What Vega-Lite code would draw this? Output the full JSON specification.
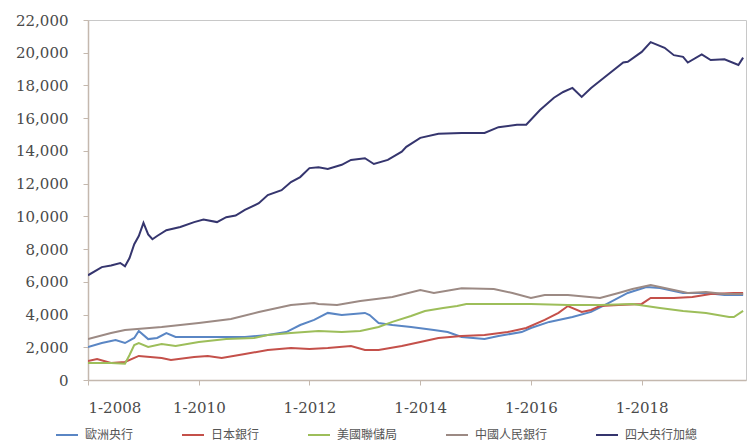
{
"$schema": "https://vega.github.io/schema/vega-lite/v6.json",
"width": 658, "height": 360,
"autosize": {"type": "none"},
"padding": {"left": 88, "top": 20, "right": 3, "bottom": 61},
"background": "white",
"config": {"view": {"stroke": "#C8C8C8", "strokeWidth": 1}},
"data": {"values": [
{"date":"2008-01","series":"歐洲央行","value":2020},{"date":"2008-04","series":"歐洲央行","value":2260},{"date":"2008-07","series":"歐洲央行","value":2440},{"date":"2008-09","series":"歐洲央行","value":2260},{"date":"2008-11","series":"歐洲央行","value":2570},{"date":"2008-12","series":"歐洲央行","value":3000},{"date":"2009-02","series":"歐洲央行","value":2500},{"date":"2009-04","series":"歐洲央行","value":2570},{"date":"2009-06","series":"歐洲央行","value":2870},{"date":"2009-08","series":"歐洲央行","value":2630},{"date":"2010-03","series":"歐洲央行","value":2630},{"date":"2010-11","series":"歐洲央行","value":2630},{"date":"2011-04","series":"歐洲央行","value":2750},{"date":"2011-08","series":"歐洲央行","value":2930},{"date":"2011-11","series":"歐洲央行","value":3360},{"date":"2012-02","series":"歐洲央行","value":3670},{"date":"2012-05","series":"歐洲央行","value":4100},{"date":"2012-08","series":"歐洲央行","value":3970},{"date":"2013-01","series":"歐洲央行","value":4100},{"date":"2013-02","series":"歐洲央行","value":3970},{"date":"2013-04","series":"歐洲央行","value":3480},{"date":"2013-07","series":"歐洲央行","value":3360},{"date":"2013-11","series":"歐洲央行","value":3240},{"date":"2014-04","series":"歐洲央行","value":3060},{"date":"2014-07","series":"歐洲央行","value":2930},{"date":"2014-10","series":"歐洲央行","value":2630},{"date":"2015-03","series":"歐洲央行","value":2500},{"date":"2015-06","series":"歐洲央行","value":2690},{"date":"2015-11","series":"歐洲央行","value":2930},{"date":"2016-01","series":"歐洲央行","value":3180},{"date":"2016-05","series":"歐洲央行","value":3550},{"date":"2016-10","series":"歐洲央行","value":3850},{"date":"2017-02","series":"歐洲央行","value":4160},{"date":"2017-05","series":"歐洲央行","value":4580},{"date":"2017-10","series":"歐洲央行","value":5320},{"date":"2018-02","series":"歐洲央行","value":5680},{"date":"2018-05","series":"歐洲央行","value":5620},{"date":"2018-10","series":"歐洲央行","value":5320},{"date":"2019-03","series":"歐洲央行","value":5320},{"date":"2019-07","series":"歐洲央行","value":5200},{"date":"2019-11","series":"歐洲央行","value":5200},

{"date":"2008-01","series":"日本銀行","value":1160},{"date":"2008-03","series":"日本銀行","value":1280},{"date":"2008-06","series":"日本銀行","value":1040},{"date":"2008-09","series":"日本銀行","value":1100},{"date":"2008-12","series":"日本銀行","value":1470},{"date":"2009-05","series":"日本銀行","value":1340},{"date":"2009-07","series":"日本銀行","value":1220},{"date":"2009-12","series":"日本銀行","value":1400},{"date":"2010-03","series":"日本銀行","value":1470},{"date":"2010-06","series":"日本銀行","value":1340},{"date":"2010-11","series":"日本銀行","value":1590},{"date":"2011-04","series":"日本銀行","value":1830},{"date":"2011-09","series":"日本銀行","value":1960},{"date":"2012-01","series":"日本銀行","value":1900},{"date":"2012-05","series":"日本銀行","value":1960},{"date":"2012-10","series":"日本銀行","value":2080},{"date":"2013-01","series":"日本銀行","value":1830},{"date":"2013-04","series":"日本銀行","value":1830},{"date":"2013-09","series":"日本銀行","value":2080},{"date":"2014-01","series":"日本銀行","value":2320},{"date":"2014-05","series":"日本銀行","value":2570},{"date":"2014-10","series":"日本銀行","value":2690},{"date":"2015-03","series":"日本銀行","value":2750},{"date":"2015-08","series":"日本銀行","value":2930},{"date":"2015-12","series":"日本銀行","value":3180},{"date":"2016-04","series":"日本銀行","value":3670},{"date":"2016-07","series":"日本銀行","value":4100},{"date":"2016-09","series":"日本銀行","value":4520},{"date":"2016-12","series":"日本銀行","value":4160},{"date":"2017-02","series":"日本銀行","value":4280},{"date":"2017-04","series":"日本銀行","value":4520},{"date":"2017-08","series":"日本銀行","value":4580},{"date":"2018-01","series":"日本銀行","value":4650},{"date":"2018-03","series":"日本銀行","value":5010},{"date":"2018-08","series":"日本銀行","value":5010},{"date":"2018-12","series":"日本銀行","value":5070},{"date":"2019-04","series":"日本銀行","value":5260},{"date":"2019-09","series":"日本銀行","value":5320},{"date":"2019-11","series":"日本銀行","value":5320},

{"date":"2008-01","series":"美國聯儲局","value":1040},{"date":"2008-06","series":"美國聯儲局","value":1040},{"date":"2008-09","series":"美國聯儲局","value":1000},{"date":"2008-10","series":"美國聯儲局","value":1530},{"date":"2008-11","series":"美國聯儲局","value":2140},{"date":"2008-12","series":"美國聯儲局","value":2260},{"date":"2009-02","series":"美國聯儲局","value":2020},{"date":"2009-05","series":"美國聯儲局","value":2200},{"date":"2009-08","series":"美國聯儲局","value":2080},{"date":"2010-01","series":"美國聯儲局","value":2320},{"date":"2010-07","series":"美國聯儲局","value":2500},{"date":"2011-01","series":"美國聯儲局","value":2570},{"date":"2011-04","series":"美國聯儲局","value":2750},{"date":"2011-09","series":"美國聯儲局","value":2870},{"date":"2012-03","series":"美國聯儲局","value":3000},{"date":"2012-08","series":"美國聯儲局","value":2930},{"date":"2012-12","series":"美國聯儲局","value":3000},{"date":"2013-04","series":"美國聯儲局","value":3240},{"date":"2013-07","series":"美國聯儲局","value":3550},{"date":"2013-11","series":"美國聯儲局","value":3910},{"date":"2014-02","series":"美國聯儲局","value":4220},{"date":"2014-06","series":"美國聯儲局","value":4400},{"date":"2014-09","series":"美國聯儲局","value":4520},{"date":"2014-11","series":"美國聯儲局","value":4650},{"date":"2016-01","series":"美國聯儲局","value":4650},{"date":"2016-09","series":"美國聯儲局","value":4580},{"date":"2017-04","series":"美國聯儲局","value":4580},{"date":"2017-11","series":"美國聯儲局","value":4650},{"date":"2018-05","series":"美國聯儲局","value":4400},{"date":"2018-10","series":"美國聯儲局","value":4220},{"date":"2019-03","series":"美國聯儲局","value":4100},{"date":"2019-08","series":"美國聯儲局","value":3850},{"date":"2019-09","series":"美國聯儲局","value":3850},{"date":"2019-11","series":"美國聯儲局","value":4220},

{"date":"2008-01","series":"中國人民銀行","value":2500},{"date":"2008-06","series":"中國人民銀行","value":2870},{"date":"2008-09","series":"中國人民銀行","value":3060},{"date":"2009-05","series":"中國人民銀行","value":3240},{"date":"2010-01","series":"中國人民銀行","value":3480},{"date":"2010-08","series":"中國人民銀行","value":3730},{"date":"2011-02","series":"中國人民銀行","value":4150},{"date":"2011-09","series":"中國人民銀行","value":4580},{"date":"2012-02","series":"中國人民銀行","value":4700},{"date":"2012-03","series":"中國人民銀行","value":4650},{"date":"2012-07","series":"中國人民銀行","value":4580},{"date":"2012-12","series":"中國人民銀行","value":4830},{"date":"2013-07","series":"中國人民銀行","value":5070},{"date":"2014-01","series":"中國人民銀行","value":5500},{"date":"2014-04","series":"中國人民銀行","value":5320},{"date":"2014-10","series":"中國人民銀行","value":5600},{"date":"2015-05","series":"中國人民銀行","value":5560},{"date":"2015-09","series":"中國人民銀行","value":5320},{"date":"2016-01","series":"中國人民銀行","value":5010},{"date":"2016-04","series":"中國人民銀行","value":5200},{"date":"2016-09","series":"中國人民銀行","value":5200},{"date":"2017-04","series":"中國人民銀行","value":5010},{"date":"2017-08","series":"中國人民銀行","value":5320},{"date":"2017-11","series":"中國人民銀行","value":5560},{"date":"2018-03","series":"中國人民銀行","value":5800},{"date":"2018-06","series":"中國人民銀行","value":5620},{"date":"2018-11","series":"中國人民銀行","value":5320},{"date":"2019-03","series":"中國人民銀行","value":5380},{"date":"2019-07","series":"中國人民銀行","value":5260},{"date":"2019-11","series":"中國人民銀行","value":5260},

{"date":"2008-01","series":"四大央行加總","value":6400},{"date":"2008-04","series":"四大央行加總","value":6900},{"date":"2008-06","series":"四大央行加總","value":7000},{"date":"2008-08","series":"四大央行加總","value":7150},{"date":"2008-09","series":"四大央行加總","value":6950},{"date":"2008-10","series":"四大央行加總","value":7450},{"date":"2008-11","series":"四大央行加總","value":8300},{"date":"2008-12","series":"四大央行加總","value":8800},{"date":"2009-01","series":"四大央行加總","value":9600},{"date":"2009-02","series":"四大央行加總","value":8900},{"date":"2009-03","series":"四大央行加總","value":8600},{"date":"2009-04","series":"四大央行加總","value":8800},{"date":"2009-06","series":"四大央行加總","value":9150},{"date":"2009-09","series":"四大央行加總","value":9350},{"date":"2009-12","series":"四大央行加總","value":9650},{"date":"2010-02","series":"四大央行加總","value":9800},{"date":"2010-05","series":"四大央行加總","value":9650},{"date":"2010-07","series":"四大央行加總","value":9950},{"date":"2010-09","series":"四大央行加總","value":10050},{"date":"2010-11","series":"四大央行加總","value":10400},{"date":"2011-02","series":"四大央行加總","value":10800},{"date":"2011-04","series":"四大央行加總","value":11300},{"date":"2011-07","series":"四大央行加總","value":11600},{"date":"2011-09","series":"四大央行加總","value":12100},{"date":"2011-11","series":"四大央行加總","value":12400},{"date":"2012-01","series":"四大央行加總","value":12950},{"date":"2012-03","series":"四大央行加總","value":13000},{"date":"2012-05","series":"四大央行加總","value":12900},{"date":"2012-08","series":"四大央行加總","value":13150},{"date":"2012-10","series":"四大央行加總","value":13450},{"date":"2013-01","series":"四大央行加總","value":13550},{"date":"2013-03","series":"四大央行加總","value":13200},{"date":"2013-06","series":"四大央行加總","value":13450},{"date":"2013-09","series":"四大央行加總","value":13950},{"date":"2013-10","series":"四大央行加總","value":14250},{"date":"2014-01","series":"四大央行加總","value":14800},{"date":"2014-05","series":"四大央行加總","value":15050},{"date":"2014-10","series":"四大央行加總","value":15100},{"date":"2015-03","series":"四大央行加總","value":15100},{"date":"2015-06","series":"四大央行加總","value":15450},{"date":"2015-10","series":"四大央行加總","value":15600},{"date":"2015-12","series":"四大央行加總","value":15600},{"date":"2016-03","series":"四大央行加總","value":16500},{"date":"2016-06","series":"四大央行加總","value":17250},{"date":"2016-08","series":"四大央行加總","value":17600},{"date":"2016-10","series":"四大央行加總","value":17850},{"date":"2016-12","series":"四大央行加總","value":17300},{"date":"2017-02","series":"四大央行加總","value":17850},{"date":"2017-05","series":"四大央行加總","value":18500},{"date":"2017-09","series":"四大央行加總","value":19400},{"date":"2017-10","series":"四大央行加總","value":19450},{"date":"2018-01","series":"四大央行加總","value":20050},{"date":"2018-03","series":"四大央行加總","value":20650},{"date":"2018-06","series":"四大央行加總","value":20300},{"date":"2018-08","series":"四大央行加總","value":19850},{"date":"2018-10","series":"四大央行加總","value":19750},{"date":"2018-11","series":"四大央行加總","value":19400},{"date":"2019-02","series":"四大央行加總","value":19900},{"date":"2019-04","series":"四大央行加總","value":19550},{"date":"2019-07","series":"四大央行加總","value":19600},{"date":"2019-10","series":"四大央行加總","value":19250},{"date":"2019-11","series":"四大央行加總","value":19700}
]},
"mark": {"type": "line", "interpolate": "linear", "clip": true},
"encoding": {
  "x": {"field": "date", "type": "temporal",
    "scale": {"type": "utc", "domain": [{"year": 2008, "month": 1, "date": 1, "utc": true}, {"year": 2019, "month": 11, "date": 20, "utc": true}]},
    "axis": {"title": null, "grid": false,
      "values": [{"year": 2008, "utc": true}, {"year": 2010, "utc": true}, {"year": 2012, "utc": true}, {"year": 2014, "utc": true}, {"year": 2016, "utc": true}, {"year": 2018, "utc": true}],
      "labelExpr": "'1-' + utcFormat(datum.value, '%Y')",
      "labelFont": "DejaVu Serif", "labelFontSize": 15, "labelColor": "#4A4A4A",
      "labelPadding": 15, "tickSize": 5, "tickColor": "#C4B8AE", "domainColor": "#C4B8AE", "domainWidth": 1.5}},
  "y": {"field": "value", "type": "quantitative",
    "scale": {"domain": [0, 22000], "nice": false},
    "axis": {"title": null, "grid": false, "values": [0, 2000, 4000, 6000, 8000, 10000, 12000, 14000, 16000, 18000, 20000, 22000],
      "format": ",.0f", "labelFont": "DejaVu Serif", "labelFontSize": 15, "labelColor": "#4A4A4A",
      "labelPadding": 15, "tickSize": 5, "tickColor": "#C4B8AE", "domainColor": "#C4B8AE", "domainWidth": 1.5}},
  "color": {"field": "series", "type": "nominal",
    "scale": {"domain": ["歐洲央行", "日本銀行", "美國聯儲局", "中國人民銀行", "四大央行加總"],
              "range": ["#5A86C4", "#C4504A", "#9DBE5A", "#9C8A84", "#35356E"]},
    "legend": {"title": null, "orient": "none", "legendX": -33, "legendY": 403, "direction": "horizontal", "columns": 5,
      "symbolType": "stroke", "symbolSize": 484, "symbolStrokeWidth": 2.5, "labelFont": "Noto Sans CJK TC", "labelFontSize": 12,
      "labelColor": "#555555", "labelOffset": 6, "columnPadding": 44, "labelLimit": 200}},
  "strokeWidth": {"field": "series", "type": "nominal",
    "scale": {"domain": ["歐洲央行", "日本銀行", "美國聯儲局", "中國人民銀行", "四大央行加總"], "range": [2, 2, 2, 2, 2.6]},
    "legend": null}
}
}
